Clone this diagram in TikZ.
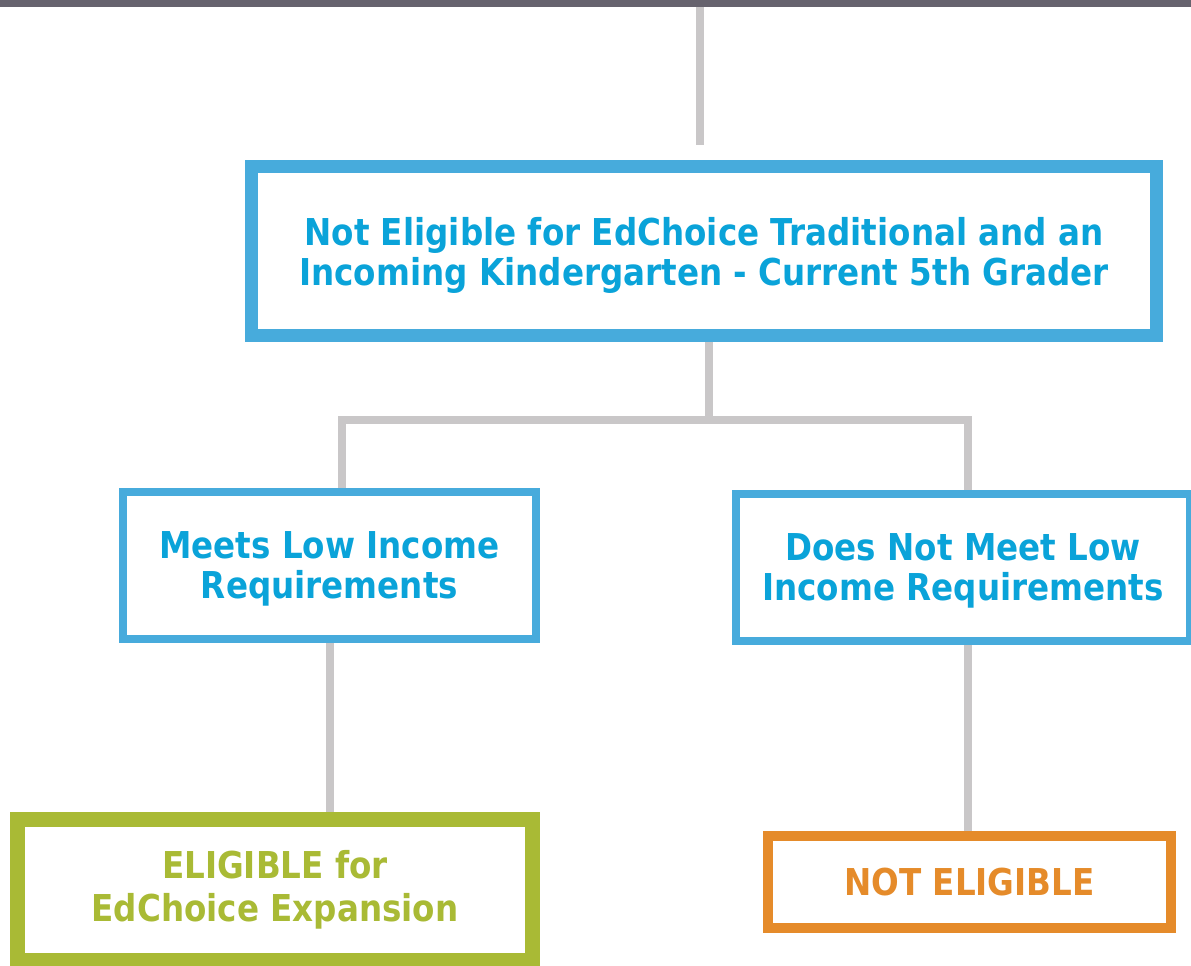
\documentclass[tikz,border=0pt]{standalone}
\usepackage{fontspec}
\usepackage{tikz}
\setmainfont{DejaVu Sans}[FakeStretch=0.88]
\definecolor{barcol}{HTML}{66636E}
\definecolor{linkcol}{HTML}{C9C7C8}
\definecolor{blueline}{HTML}{47ABDC}
\definecolor{bluetext}{HTML}{0AA3D9}
\definecolor{greencol}{HTML}{A9BA35}
\definecolor{orangecol}{HTML}{E58B2A}
\tikzset{
  link/.style={draw=linkcol, line width=8pt},
  flowbox/.style={rectangle, align=center, fill=white, inner sep=0pt,
    font=\fontsize{37}{40}\selectfont\bfseries},
  bluebox/.style={flowbox, draw=blueline, text=bluetext, text depth=0pt},
}
\begin{document}
\begin{tikzpicture}[x=1pt,y=-1pt]
            \useasboundingbox (0,0) rectangle (1191,966);
            \node[fill=barcol, minimum width=1191pt, minimum height=7pt, inner sep=0pt] (bar) at (595.5,3.5) {};
            \node[bluebox, line width=13pt, minimum width=905pt, minimum height=169pt] (top) at (704,251) {Not Eligible for EdChoice Traditional and an\\Incoming Kindergarten - Current 5th Grader};
            \node[bluebox, line width=8pt, minimum width=413pt, minimum height=147pt] (meets) at (329.5,565.5) {Meets Low Income\\Requirements};
            \node[bluebox, line width=8pt, minimum width=454pt, minimum height=147pt] (nomeet) at (963,567.5) {Does Not Meet Low\\Income Requirements};
            \node[flowbox, draw=greencol, text=greencol, line width=15pt, minimum width=515pt, minimum height=141pt] (elig) at (275,890) {ELIGIBLE for\\[3pt]EdChoice Expansion};
            \node[flowbox, draw=orangecol, text=orangecol, line width=10pt, minimum width=403pt, minimum height=92pt] (noelig) at (969.5,882) {NOT ELIGIBLE};
            \coordinate (stem) at (700,145);
            \coordinate (fork) at (709,420);
            \coordinate (jl) at (342,420);
            \coordinate (jr) at (968,420);
            \draw[link] (stem |- bar.south) -- (stem);
            \draw[link] (fork |- top.south) -- (fork);
            \draw[link] (jl |- meets.north) -- (jl) -- (jr) -- (jr |- nomeet.north);
            \draw[link] (meets.south) -- (meets.south |- elig.north);
            \draw[link] (jr |- nomeet.south) -- (jr |- noelig.north);
        \end{tikzpicture}
\end{document}
